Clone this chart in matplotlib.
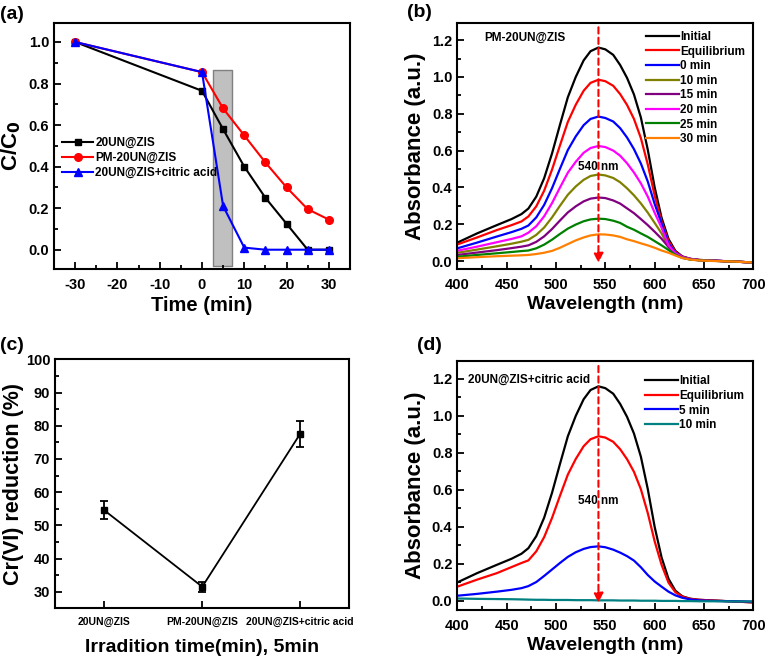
import matplotlib
matplotlib.use("Agg")
import matplotlib.pyplot as plt
from matplotlib.ticker import MultipleLocator, FormatStrFormatter

plt.rcParams['font.family'] = ['Liberation Sans', 'DejaVu Sans']
plt.rcParams['font.weight'] = 'bold'
plt.rcParams['axes.labelweight'] = 'bold'
plt.rcParams['axes.linewidth'] = 1.5
plt.rcParams['axes.unicode_minus'] = False

# ---------------- data (a) ----------------
time_a = [-30, 0, 5, 10, 15, 20, 25, 30]
cc_20un = [1.0, 0.765, 0.58, 0.40, 0.25, 0.125, 0.0, 0.0]
cc_pm = [1.0, 0.855, 0.68, 0.55, 0.42, 0.30, 0.195, 0.145]
cc_citric = [1.0, 0.855, 0.21, 0.01, 0.0, 0.0, 0.0, 0.0]
labels_a = ['20UN@ZIS', 'PM-20UN@ZIS', '20UN@ZIS+citric acid']

# ---------------- data (b)/(d) spectra ----------------
wl = [400, 420, 440, 455, 465, 472, 480, 488, 496, 504, 512, 520, 528, 535, 543,
      550, 558, 565, 572, 579, 586, 593, 600, 607, 614, 621, 628, 636, 645, 660, 680, 700]
abs_initial = [0.100, 0.150, 0.195, 0.228, 0.255, 0.285, 0.35, 0.45, 0.585, 0.74, 0.89, 1.00, 1.09, 1.14, 1.16,
               1.15, 1.12, 1.065, 0.995, 0.905, 0.78, 0.605, 0.40, 0.235, 0.12, 0.055, 0.025, 0.012, 0.006, 0.002, -0.003, -0.008]
abs_equil_b = [0.090, 0.128, 0.168, 0.195, 0.215, 0.242, 0.297, 0.382, 0.497, 0.628, 0.756, 0.849, 0.925, 0.968, 0.985,
               0.977, 0.952, 0.907, 0.848, 0.772, 0.668, 0.525, 0.355, 0.215, 0.108, 0.05, 0.024, 0.012, 0.006, 0.002, -0.003, -0.008]
abs_0min = [0.069, 0.100, 0.133, 0.157, 0.175, 0.193, 0.237, 0.305, 0.396, 0.501, 0.603, 0.677, 0.738, 0.772, 0.785,
            0.777, 0.758, 0.722, 0.671, 0.608, 0.53, 0.432, 0.31, 0.204, 0.095, 0.045, 0.022, 0.011, 0.005, 0.002, -0.003, -0.008]
abs_10min = [0.045, 0.062, 0.080, 0.094, 0.105, 0.115, 0.142, 0.182, 0.237, 0.30, 0.36, 0.405, 0.441, 0.462, 0.47,
             0.465, 0.451, 0.428, 0.395, 0.357, 0.313, 0.263, 0.207, 0.15, 0.078, 0.04, 0.02, 0.01, 0.005, 0.001, -0.003, -0.008]
abs_15min = [0.033, 0.046, 0.059, 0.070, 0.078, 0.085, 0.104, 0.134, 0.174, 0.22, 0.264, 0.297, 0.324, 0.339, 0.345,
             0.342, 0.329, 0.312, 0.286, 0.26, 0.228, 0.195, 0.159, 0.121, 0.076, 0.037, 0.018, 0.009, 0.004, 0.001, -0.003, -0.008]
abs_20min = [0.056, 0.078, 0.102, 0.120, 0.134, 0.154, 0.189, 0.243, 0.315, 0.399, 0.48, 0.539, 0.588, 0.614, 0.625,
             0.619, 0.60, 0.572, 0.531, 0.481, 0.422, 0.35, 0.262, 0.181, 0.085, 0.042, 0.021, 0.011, 0.005, 0.002, -0.003, -0.008]
abs_25min = [0.023, 0.033, 0.042, 0.049, 0.054, 0.057, 0.069, 0.089, 0.116, 0.147, 0.176, 0.198, 0.216, 0.226, 0.23,
             0.228, 0.219, 0.207, 0.186, 0.17, 0.15, 0.131, 0.108, 0.085, 0.06, 0.034, 0.017, 0.008, 0.004, 0.001, -0.003, -0.008]
abs_30min = [0.015, 0.021, 0.026, 0.029, 0.031, 0.033, 0.038, 0.045, 0.055, 0.072, 0.092, 0.112, 0.128, 0.139, 0.145,
             0.144, 0.139, 0.131, 0.118, 0.108, 0.096, 0.085, 0.072, 0.057, 0.045, 0.03, 0.016, 0.008, 0.003, 0.0, -0.003, -0.008]
labels_b = ['Initial', 'Equilibrium', '0 min', '10 min', '15 min', '20 min', '25 min', '30 min']
colors_b = ['black', '#ff0000', '#0000ff', '#808000', '#800080', '#ff00ff', '#008000', '#ff8000']

abs_equil_d = [0.077, 0.115, 0.150, 0.183, 0.205, 0.219, 0.268, 0.345, 0.449, 0.568, 0.683, 0.767, 0.836, 0.874, 0.89,
               0.883, 0.86, 0.82, 0.766, 0.698, 0.604, 0.475, 0.322, 0.195, 0.099, 0.047, 0.023, 0.011, 0.006, 0.002, -0.003, -0.008]
abs_5min_d = [0.028, 0.038, 0.050, 0.060, 0.069, 0.080, 0.102, 0.135, 0.170, 0.205, 0.238, 0.263, 0.281, 0.291, 0.295,
              0.29, 0.277, 0.261, 0.242, 0.218, 0.182, 0.14, 0.105, 0.077, 0.05, 0.03, 0.017, 0.008, 0.003, 0.0, -0.002, -0.004]
abs_10min_d = [0.013, 0.011, 0.010, 0.009, 0.008, 0.007, 0.006, 0.006, 0.005, 0.005, 0.005, 0.004, 0.004, 0.004, 0.003,
               0.003, 0.003, 0.002, 0.002, 0.002, 0.001, 0.001, 0.001, 0.0, 0.0, 0.0, -0.001, -0.001, -0.002, -0.002, -0.003, -0.003]
labels_d = ['Initial', 'Equilibrium', '5 min', '10 min']
colors_d = ['black', '#ff0000', '#0000ff', '#008080']

# ---------------- data (c) ----------------
cats_c = ['20UN@ZIS', 'PM-20UN@ZIS', '20UN@ZIS+citric acid']
red_c = [54.5, 31.5, 77.5]
err_c = [2.7, 1.5, 3.8]

fig = plt.figure(figsize=(7.68, 6.61), dpi=100)

XL = 14   # x label size
YL = 16   # y label size


def style(ax):
    ax.tick_params(direction='in', which='both', width=1.3, labelsize=10.5)
    ax.tick_params(which='major', length=5)
    ax.tick_params(which='minor', length=3)
    ax.tick_params(axis='x', pad=6.5)
    for lab in ax.get_xticklabels() + ax.get_yticklabels():
        lab.set_fontweight('bold')


# ---- (a) ----
axa = fig.add_axes([0.0703, 0.593, 0.3854, 0.3727])
axa.fill_between([2.6, 7.0], -0.079, 0.866, facecolor='#c0c0c0', edgecolor='#808080', lw=1.0, zorder=1)
axa.plot(time_a, cc_20un, '-s', color='black', ms=5, lw=1.5, label=labels_a[0], zorder=3)
axa.plot(time_a, cc_pm, '-o', color='#ff0000', ms=5.5, lw=1.5, label=labels_a[1], zorder=3)
axa.plot(time_a, cc_citric, '-^', color='#0000ff', ms=5.5, lw=1.5, label=labels_a[2], zorder=4)
axa.set_xlim(-35, 35)
axa.set_ylim(-0.093, 1.093)
axa.xaxis.set_major_locator(MultipleLocator(10))
axa.xaxis.set_minor_locator(MultipleLocator(5))
axa.yaxis.set_major_locator(MultipleLocator(0.2))
axa.yaxis.set_minor_locator(MultipleLocator(0.1))
axa.yaxis.set_major_formatter(FormatStrFormatter('%.1f'))
axa.set_xlabel('Time (min)', fontsize=XL + 0.5, labelpad=3)
axa.set_ylabel('C/C$\\mathbf{_0}$', fontsize=YL, labelpad=4)
style(axa)
axa.legend(loc='center left', bbox_to_anchor=(0.0, 0.45), frameon=False,
           handlelength=2.6, handletextpad=0.2, labelspacing=0.25, borderaxespad=0.3,
           prop={'weight': 'bold', 'size': 8.5})

# ---- (b) ----
axb = fig.add_axes([0.5955, 0.5926, 0.3854, 0.3731])
series_b = [abs_initial, abs_equil_b, abs_0min, abs_10min, abs_15min, abs_20min, abs_25min, abs_30min]
for y, c, l in zip(series_b, colors_b, labels_b):
    axb.plot(wl, y, color=c, lw=1.6, label=l, solid_joinstyle='round')
axb.set_xlim(400, 700)
axb.set_ylim(-0.045, 1.295)
axb.xaxis.set_major_locator(MultipleLocator(50))
axb.xaxis.set_minor_locator(MultipleLocator(25))
axb.yaxis.set_major_locator(MultipleLocator(0.2))
axb.yaxis.set_minor_locator(MultipleLocator(0.1))
axb.yaxis.set_major_formatter(FormatStrFormatter('%.1f'))
axb.set_xlabel('Wavelength (nm)', fontsize=XL, labelpad=3)
axb.set_ylabel('Absorbance (a.u.)', fontsize=YL, labelpad=4)
style(axb)
axb.annotate('', xy=(543, -0.01), xytext=(543, 1.27),
             arrowprops=dict(arrowstyle='-|>', color='#ff0000', lw=1.5, ls=(0, (3, 2)),
                             mutation_scale=14, shrinkA=0, shrinkB=0), zorder=5)
axb.text(543, 0.51, '540 nm', ha='center', va='center', fontsize=8.5, fontweight='bold', zorder=6)
axb.text(0.09, 0.94, 'PM-20UN@ZIS', transform=axb.transAxes, fontsize=8.5, fontweight='bold', va='center')
axb.legend(loc='upper right', frameon=False, handlelength=2.8, handletextpad=0.1,
           labelspacing=0.22, borderaxespad=0.3, bbox_to_anchor=(1.0, 1.0),
           prop={'weight': 'bold', 'size': 8.5})

# ---- (c) ----
axc = fig.add_axes([0.0716, 0.0797, 0.3828, 0.3767])
xc = list(range(len(cats_c)))
axc.errorbar(xc, red_c, yerr=err_c, fmt='-s', color='black', ms=5, lw=1.3, capsize=3, elinewidth=1.3, capthick=1.3)
axc.set_xlim(-0.505, 2.5)
axc.set_ylim(25, 100)
axc.set_xticks(xc)
axc.set_xticklabels(cats_c)
axc.yaxis.set_major_locator(MultipleLocator(10))
axc.yaxis.set_minor_locator(MultipleLocator(5))
axc.set_xlabel('Irradition time(min), 5min', fontsize=XL, labelpad=8)
axc.set_ylabel('Cr(VI) reduction (%)', fontsize=YL - 0.5, labelpad=1)
style(axc)
axc.tick_params(axis='x', labelsize=7.5)

# ---- (d) ----
axd = fig.add_axes([0.5955, 0.0772, 0.3854, 0.3767])
series_d = [abs_initial, abs_equil_d, abs_5min_d, abs_10min_d]
for y, c, l in zip(series_d, colors_d, labels_d):
    axd.plot(wl, y, color=c, lw=1.6, label=l, solid_joinstyle='round')
axd.set_xlim(400, 700)
axd.set_ylim(-0.049, 1.297)
axd.xaxis.set_major_locator(MultipleLocator(50))
axd.xaxis.set_minor_locator(MultipleLocator(25))
axd.yaxis.set_major_locator(MultipleLocator(0.2))
axd.yaxis.set_minor_locator(MultipleLocator(0.1))
axd.yaxis.set_major_formatter(FormatStrFormatter('%.1f'))
axd.set_xlabel('Wavelength (nm)', fontsize=XL, labelpad=3)
axd.set_ylabel('Absorbance (a.u.)', fontsize=YL, labelpad=4)
style(axd)
axd.annotate('', xy=(543, -0.01), xytext=(543, 1.27),
             arrowprops=dict(arrowstyle='-|>', color='#ff0000', lw=1.5, ls=(0, (3, 2)),
                             mutation_scale=14, shrinkA=0, shrinkB=0), zorder=5)
axd.text(543, 0.54, '540 nm', ha='center', va='center', fontsize=8.5, fontweight='bold', zorder=6)
axd.text(0.035, 0.925, '20UN@ZIS+citric acid', transform=axd.transAxes, fontsize=8.5, fontweight='bold', va='center')
axd.legend(loc='upper right', frameon=False, handlelength=2.8, handletextpad=0.1,
           labelspacing=0.22, borderaxespad=0.4, bbox_to_anchor=(1.0, 0.98),
           prop={'weight': 'bold', 'size': 8.5})

# panel labels
fig.text(0.0, 0.978, '(a)', fontsize=14, fontweight='bold', va='center', ha='left')
fig.text(0.53, 0.981, '(b)', fontsize=14, fontweight='bold', va='center', ha='left')
fig.text(0.0, 0.478, '(c)', fontsize=14, fontweight='bold', va='center', ha='left')
fig.text(0.543, 0.478, '(d)', fontsize=14, fontweight='bold', va='center', ha='left')

fig.savefig('out.png', dpi=100)
